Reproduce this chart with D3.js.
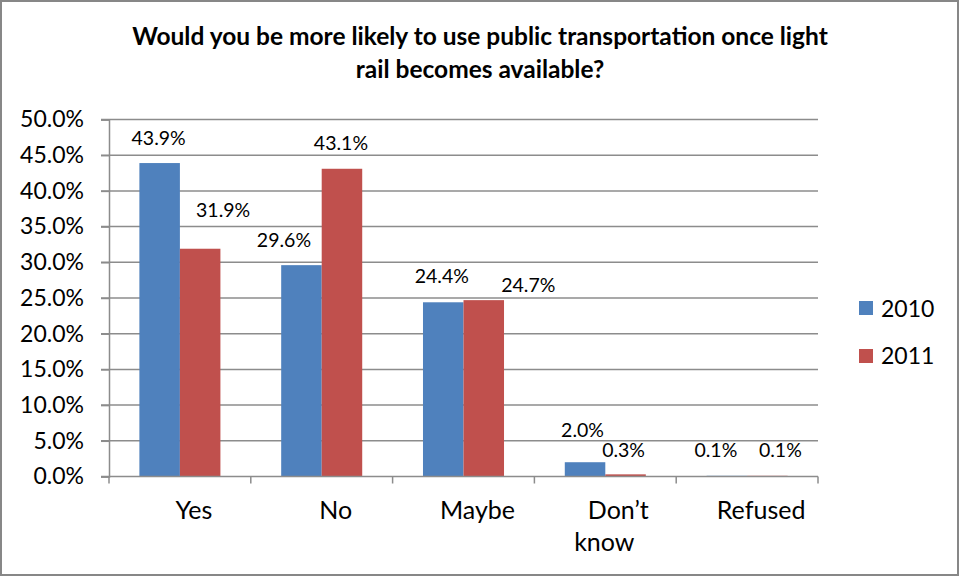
<!DOCTYPE html>
<html>
<head>
<meta charset="utf-8">
<script src="https://cdn.jsdelivr.net/npm/d3@7"></script>
<style>
  html, body { margin: 0; padding: 0; background: #fff; }
  svg { display: block; }
  text { font-family: Lato, "Open Sans", sans-serif; fill: #000; }
</style>
</head>
<body>
<script>
// ---- data ----
const categories = ["Yes", "No", "Maybe", "Don\u2019t know", "Refused"];
const seriesNames = ["2010", "2011"];
const values2010 = [43.9, 29.6, 24.4, 2.0, 0.1];
const values2011 = [31.9, 43.1, 24.7, 0.3, 0.1];
const yTicks = [0, 5, 10, 15, 20, 25, 30, 35, 40, 45, 50];
const titleLines = ["Would you be more likely to use public transportation once light", "rail becomes available?"];

// ---- layout (manual label nudges, as placed in the original) ----
const labelNudge2010 = [[-1, -18], [-17.5, -18], [-1.5, -19], [-2.5, -25], [-11, -19]];
const labelNudge2011 = [[23, -32], [-1, -19], [44.5, -8], [-2, -17], [13, -19]];
const colors = ["#4F81BD", "#C0504D"];

const W = 960, H = 577;
const svg = d3.select("body").append("svg").attr("width", W).attr("height", H);

svg.append("rect").attr("x", 1).attr("y", 1).attr("width", W - 3).attr("height", H - 3)
  .attr("fill", "#fff").attr("stroke", "#878787").attr("stroke-width", 2);

const plot = { left: 109, right: 818, top: 119.5, bottom: 476.5 };

const x0 = d3.scaleBand().domain(categories).range([plot.left, plot.right]).paddingInner(0).paddingOuter(0);
const x1 = d3.scaleBand().domain(seriesNames).range([0, x0.bandwidth()]).paddingInner(0).paddingOuter(0.75);
const y = d3.scaleLinear().domain([0, 50]).range([plot.bottom, plot.top]);

const gridColor = "#8C8C8C";

// gridlines
svg.append("g").selectAll("line").data(yTicks.filter(d => d > 0)).join("line")
  .attr("x1", plot.left - 8).attr("x2", plot.right)
  .attr("y1", d => y(d)).attr("y2", d => y(d))
  .attr("stroke", gridColor).attr("stroke-width", 1.5);

// y axis
const yAxis = d3.axisLeft(y).tickValues(yTicks).tickFormat(d => d.toFixed(1) + "%").tickSize(8).tickPadding(17);
const gy = svg.append("g").attr("transform", `translate(${plot.left},0)`).call(yAxis);
gy.select(".domain").attr("stroke", gridColor).attr("stroke-width", 1.5);
gy.selectAll(".tick line").attr("stroke", gridColor).attr("stroke-width", 1.5);
gy.selectAll(".tick text").attr("font-size", 23).attr("font-family", "Lato").attr("fill", "#000");

// bars
const seriesVals = [values2010, values2011];
const nudges = [labelNudge2010, labelNudge2011];
seriesNames.forEach((s, si) => {
  const g = svg.append("g");
  g.selectAll("rect").data(categories).join("rect")
    .attr("x", c => x0(c) + x1(s))
    .attr("y", (c, i) => y(seriesVals[si][i]))
    .attr("width", x1.bandwidth())
    .attr("height", (c, i) => y(0) - y(seriesVals[si][i]))
    .attr("fill", colors[si]);
});

// x axis
const xAxisG = svg.append("g").attr("transform", `translate(0,${plot.bottom})`);
xAxisG.append("line").attr("x1", plot.left - 8).attr("x2", plot.right).attr("y1", 0).attr("y2", 0)
  .attr("stroke", gridColor).attr("stroke-width", 1.5);
const boundaries = categories.map(c => x0(c)).concat([plot.right]);
xAxisG.selectAll("line.tk").data(boundaries).join("line").attr("class", "tk")
  .attr("x1", d => d).attr("x2", d => d).attr("y1", 0).attr("y2", 7)
  .attr("stroke", gridColor).attr("stroke-width", 1.5);

// category labels
categories.forEach((c, i) => {
  const cx = x0(c) + x0.bandwidth() / 2;
  const words = c.split(" ");
  const t = svg.append("text").attr("font-size", 25).attr("text-anchor", "middle");
  if (words.length === 1) {
    t.attr("x", cx + 14).attr("y", 519).text(c);
  } else {
    t.append("tspan").attr("x", cx + 13).attr("y", 519).text(words[0]);
    t.append("tspan").attr("x", cx - 1).attr("y", 551).text(words[1]);
  }
});

// data labels
seriesNames.forEach((s, si) => {
  svg.append("g").selectAll("text").data(categories).join("text")
    .attr("x", (c, i) => x0(c) + x1(s) + x1.bandwidth() / 2 + nudges[si][i][0])
    .attr("y", (c, i) => y(seriesVals[si][i]) + nudges[si][i][1])
    .attr("text-anchor", "middle").attr("font-size", 19.5)
    .text((c, i) => seriesVals[si][i].toFixed(1) + "%");
});

// title
svg.append("g").selectAll("text").data(titleLines).join("text")
  .attr("x", 480).attr("y", (d, i) => 45 + i * 33)
  .attr("text-anchor", "middle").attr("font-size", 24.5).attr("font-weight", "bold")
  .text(d => d);

// legend
const leg = svg.append("g");
seriesNames.forEach((s, si) => {
  leg.append("rect").attr("x", 859).attr("y", 301 + si * 48).attr("width", 14).attr("height", 14).attr("fill", colors[si]);
  leg.append("text").attr("x", 881).attr("y", 317 + si * 47).attr("font-size", 23).text(s);
});
</script>
</body>
</html>
